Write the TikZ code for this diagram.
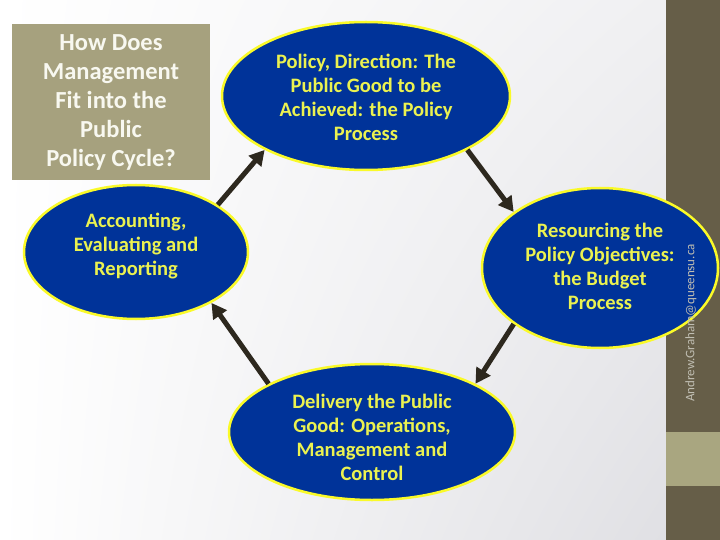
\documentclass[tikz,border=0pt]{standalone}
\usepackage{fontspec}
\setmainfont{Carlito}
\usetikzlibrary{shapes.geometric,arrows.meta,shadings}
\definecolor{barcol}{RGB}{102,94,72}
\definecolor{bandcol}{RGB}{169,166,128}
\definecolor{titlecol}{RGB}{166,161,126}
\definecolor{titletext}{RGB}{248,248,240}
\definecolor{ellfill}{RGB}{0,51,153}
\definecolor{ellline}{RGB}{250,250,40}
\definecolor{elltext}{RGB}{235,242,80}
\definecolor{arrowcol}{RGB}{45,40,30}
\definecolor{bgright}{RGB}{224,224,228}
\definecolor{bgmid}{RGB}{240,240,242}
\definecolor{markcol}{RGB}{192,190,178}
\tikzset{
  cyclebox/.style={ellipse, draw=ellline, line width=2.5pt, fill=ellfill,
    inner sep=0pt},
  cycletext/.style={align=center, text=elltext, inner sep=0pt,
    font=\bfseries\fontsize{20.5}{24}\selectfont},
  cyclearrow/.style={draw=arrowcol, line width=5pt,
    -{Triangle[length=15pt,width=16pt]}}
}
\begin{document}
\begin{tikzpicture}[x=1pt,y=-1pt]
\useasboundingbox (0,0) rectangle (720,540);
% background
\shade[upper left=white, lower left=white, upper right=bgmid, lower right=bgright]
  (0,0) rectangle (666,540);
\fill[barcol] (666,0) rectangle (720,540);
\fill[bandcol] (666,432) rectangle (720,486);
% title
\node[fill=titlecol, minimum width=198pt, minimum height=156pt, inner sep=0pt,
  align=center, text=titletext,
  font=\bfseries\fontsize{24.5}{29}\selectfont] (title) at (111,102)
  {How Does\\Management\\Fit into the\\Public\\Policy Cycle?};
% ellipses
\node[cyclebox, minimum width=288pt, minimum height=148pt] (pol) at (366,96) {};
\node[cyclebox, minimum width=224pt, minimum height=134pt] (acc) at (136,252) {};
\node[cyclebox, minimum width=236pt, minimum height=160pt] (res) at (600,268) {};
\node[cyclebox, minimum width=286pt, minimum height=136pt] (del) at (372,432) {};
\node[cycletext] (polt) at (366,97)
  {Policy, Direction: The\\Public Good to be\\Achieved: the Policy\\Process};
\node[cycletext] (acct) at (136,246)
  {Accounting,\\Evaluating and\\Reporting};
\node[cycletext] (rest) at (600,266)
  {Resourcing the\\Policy Objectives:\\the Budget\\Process};
\node[cycletext] (delt) at (372,437)
  {Delivery the Public\\Good: Operations,\\Management and\\Control};
% arrows
\draw[cyclearrow] (acc.30.7) -- (pol.208.5);
\draw[cyclearrow] (pol.-28.8) -- (res.147);
\draw[cyclearrow] (res.213.8) -- (del.25);
\draw[cyclearrow] (del.155.7) -- (acc.-34);
% watermark
\node[rotate=90, text=markcol, font=\fontsize{13}{15}\selectfont] (mail) at (691,323) {Andrew.Graham@queensu.ca};
\end{tikzpicture}
\end{document}
